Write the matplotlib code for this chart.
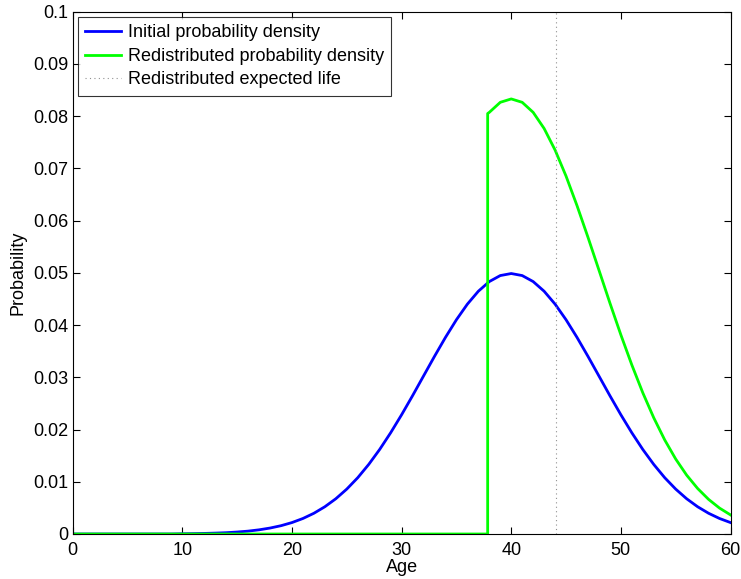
import numpy as np
import matplotlib.pyplot as plt

plt.rcParams['font.family'] = ['Liberation Sans', 'DejaVu Sans']

# initial density (age, probability)
init_age = list(range(0, 61))
init_prob = [0, 0, 0, 0, 0, 0, 0, 0, 0, 0,
             0.00004, 0.00007, 0.00011, 0.00017, 0.00025, 0.00038, 0.00055, 0.00080, 0.00114, 0.00159,
             0.00219, 0.00297, 0.00397, 0.00522, 0.00675, 0.00860, 0.01078, 0.01332, 0.01619, 0.01938,
             0.02283, 0.02648, 0.03025, 0.03401, 0.03764, 0.04102, 0.04401, 0.04648, 0.04833, 0.04948,
             0.04987, 0.04948, 0.04833, 0.04648, 0.04401, 0.04102, 0.03764, 0.03401, 0.03025, 0.02648,
             0.02283, 0.01938, 0.01619, 0.01332, 0.01078, 0.00860, 0.00675, 0.00522, 0.00397, 0.00297,
             0.00219]

# redistributed density, zero until the cut-off then the green curve
redis_age = [0, 37.85, 37.85, 38, 39, 40, 41, 42, 43, 44, 45, 46, 47, 48, 49,
             50, 51, 52, 53, 54, 55, 56, 57, 58, 59, 60]
redis_prob = [0, 0, 0.0805, 0.08073, 0.08265, 0.08330, 0.08265, 0.08073, 0.07764, 0.07351,
              0.06852, 0.06287, 0.05681, 0.05053, 0.04423, 0.03813, 0.03237, 0.02704, 0.02225,
              0.01801, 0.01436, 0.01127, 0.00872, 0.00663, 0.00496, 0.00366]

expected_life = 44.1

fig = plt.figure(figsize=(7.41, 5.79), dpi=100)
ax = fig.add_axes([72.7/741, 1 - 534/579, (730.5-72.7)/741, (534-11.7)/579])

ax.plot(init_age, init_prob, color='#0000ff', lw=2, label='Initial probability density')
ax.plot(redis_age, redis_prob, color='#00ff00', lw=2, label='Redistributed probability density')
ax.plot([expected_life, expected_life], [0, 0.1], color='#909090', lw=0.8, ls=(0, (1, 3)),
        label='Redistributed expected life')

ax.set_xlim(0, 60)
ax.set_ylim(0, 0.1)
ax.set_xticks(np.arange(0, 61, 10))
ax.set_yticks(np.arange(0, 0.101, 0.01))
ax.set_yticklabels(['0', '0.01', '0.02', '0.03', '0.04', '0.05', '0.06', '0.07', '0.08', '0.09', '0.1'])
ax.tick_params(direction='in', length=5, top=True, right=True, labelsize=13)
ax.tick_params(axis='x', pad=6)
ax.tick_params(axis='y', pad=3)
ax.set_xlabel('Age', fontsize=13, labelpad=0)
ax.set_ylabel('Probability', fontsize=13, labelpad=5)
for s in ax.spines.values():
    s.set_linewidth(0.8)

leg = ax.legend(loc='upper left', fontsize=13, frameon=True, fancybox=False, handlelength=2.0,
                borderaxespad=0.3, labelspacing=0.36, handletextpad=0.35, borderpad=0.4)
leg.get_frame().set_edgecolor('black')
leg.get_frame().set_linewidth(0.8)

fig.savefig('out.png', dpi=100)
